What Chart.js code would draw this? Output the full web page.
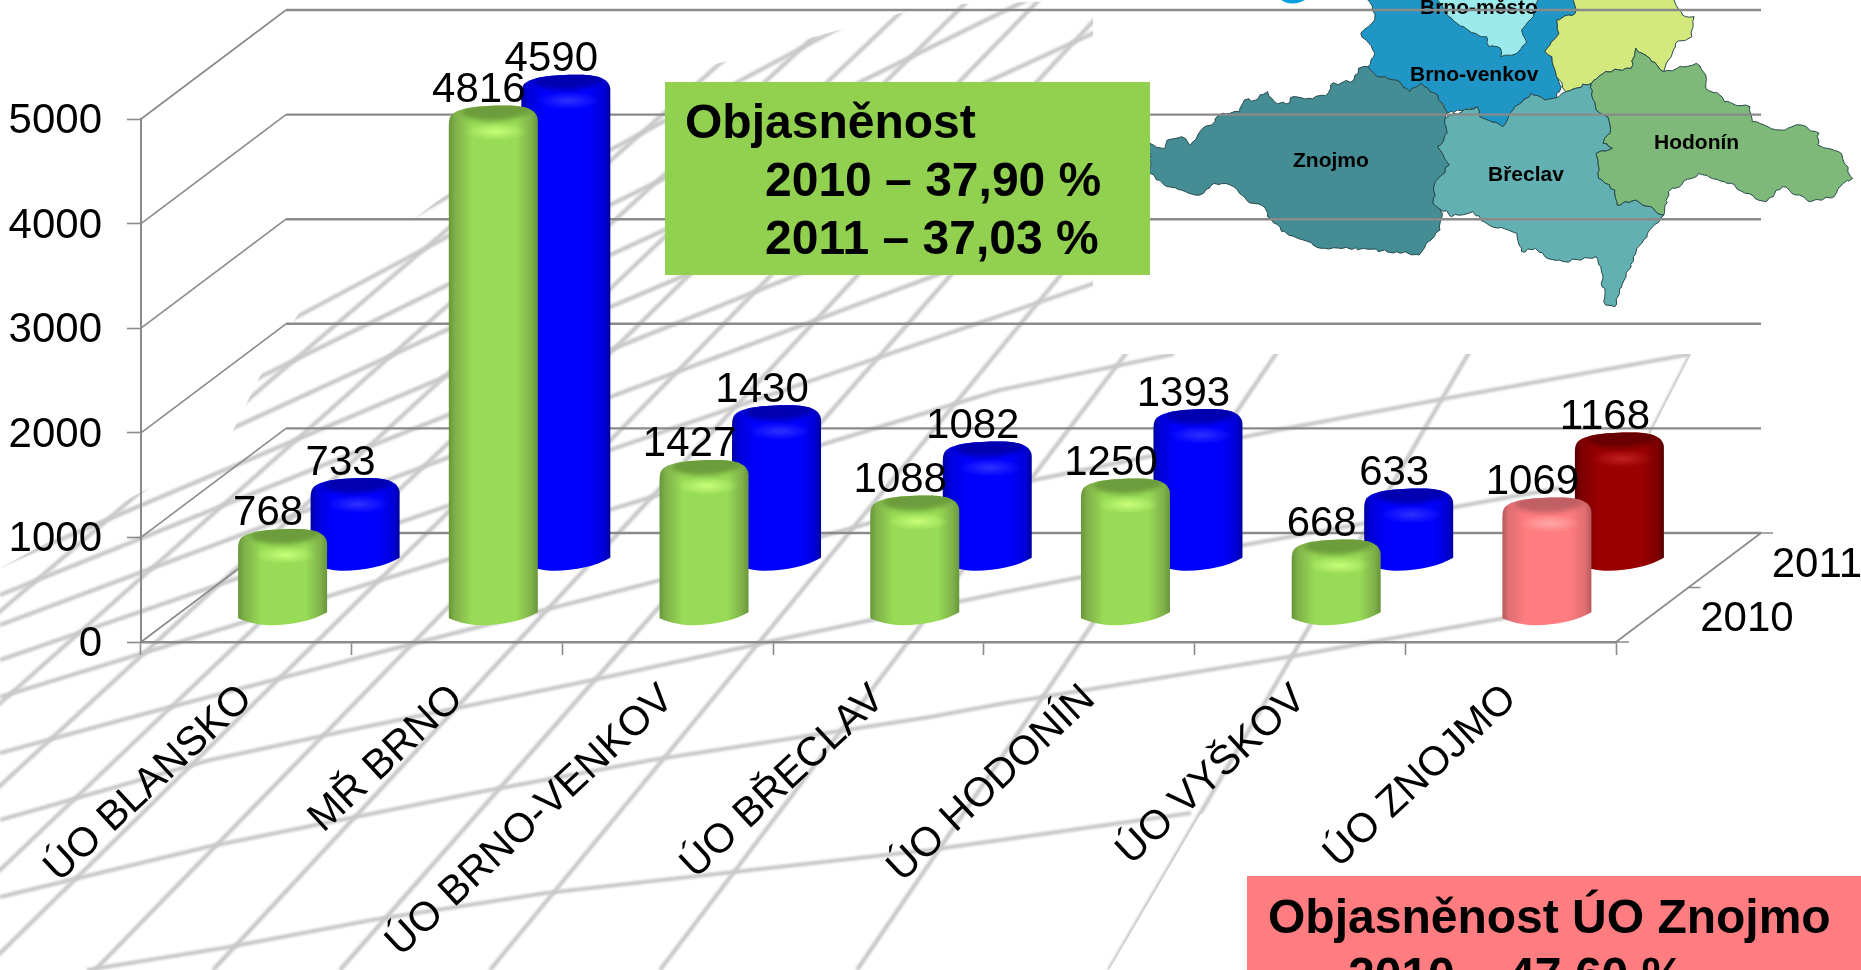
<!DOCTYPE html>
<html lang="cs">
<head>
<meta charset="utf-8">
<title>Objasněnost</title>
<script src="https://cdn.jsdelivr.net/npm/chart.js@4"></script>
<style>
html,body{margin:0;padding:0;background:#fff;overflow:hidden}
canvas{display:block}
</style>
</head>
<body>
<canvas id="c" width="1861" height="970"></canvas>
<script>
// ---- data ----
const categories = ['ÚO BLANSKO','MŘ BRNO','ÚO BRNO-VENKOV','ÚO BŘECLAV','ÚO HODONÍN','ÚO VYŠKOV','ÚO ZNOJMO'];
const seriesNames = ['2010','2011'];
const values2010 = [768,4816,1427,1088,1250,668,1069];
const values2011 = [733,4590,1430,1082,1393,633,1168];
const yTicks = [0,1000,2000,3000,4000,5000];
const greenBoxText = ['Objasněnost','2010 – 37,90 %','2011 – 37,03 %'];
const pinkBoxText = ['Objasněnost ÚO Znojmo','2010 – 47,60 %'];
const mapLabels = ['Brno-město','Brno-venkov','Znojmo','Břeclav','Hodonín'];

// ---- styles ----
const GREEN='#92D050', BLUE='#0000FF', RED='#990000', PINK='#FF7C80';
const colors2010=[GREEN,GREEN,GREEN,GREEN,GREEN,GREEN,PINK];
const colors2011=[BLUE,BLUE,BLUE,BLUE,BLUE,BLUE,RED];
const SHADES={
  [GREEN]:{edge:'#68963a',mid:'#80b04a',center:'#98DB56',cap:'#6C9C3C',glow:'#C8FF78'},
  [BLUE]:{edge:'#0000A0',mid:'#0000D8',center:'#0000FF',cap:'#0000B0',glow:'#3030FF'},
  [RED]:{edge:'#560000',mid:'#7c0000',center:'#990000',cap:'#680000',glow:'#C02020'},
  [PINK]:{edge:'#B55A5D',mid:'#E06E72',center:'#FF7C80',cap:'#C06064',glow:'#FFA8A8'}
};
const FONT='"Liberation Sans", Arial, sans-serif';
const GRID='#8a8a8a';
const DEPTH_X=145, DEPTH_Y=109;
const DEPTH_FRAC=[0.25,0.75];

// ---- cylinder element, positioned by the bar controller ----
class CylinderElement extends Chart.BarElement{
  draw(ctx){
    const {x,y,base,width}=this.getProps(['x','y','base','width'],true);
    const f=DEPTH_FRAC[this.$context.datasetIndex];
    const s=SHADES[this.options.backgroundColor];
    const cx=x+DEPTH_X*f, dy=DEPTH_Y*f, hw=width/2;
    const top=y-dy-5.5, bottom=base-dy+11;
    ctx.save();
    ctx.beginPath();
    ctx.moveTo(cx-hw,bottom-7);
    ctx.bezierCurveTo(cx-hw*.7,bottom-1.5,cx-hw*.45,bottom,cx-hw*.25,bottom);
    ctx.bezierCurveTo(cx+hw*.2,bottom,cx+hw*.7,bottom-5,cx+hw,bottom-13);
    ctx.lineTo(cx+hw,top+15);
    ctx.bezierCurveTo(cx+hw,top+5,cx+hw*.75,top,cx+hw*.3,top);
    ctx.bezierCurveTo(cx-hw*.3,top,cx-hw*.8,top+2,cx-hw*.95,top+10);
    ctx.bezierCurveTo(cx-hw,top+13,cx-hw,top+17,cx-hw,top+22);
    ctx.closePath();
    const g=ctx.createLinearGradient(cx-hw,0,cx+hw,0);
    g.addColorStop(0,s.edge);g.addColorStop(.07,s.mid);g.addColorStop(.26,s.center);
    g.addColorStop(.76,s.center);g.addColorStop(.93,s.mid);g.addColorStop(1,s.edge);
    ctx.fillStyle=g;ctx.fill();
    ctx.clip();
    // dark top face
    ctx.save();
    ctx.filter='blur(2.5px)';
    ctx.fillStyle=s.cap;
    ctx.beginPath();
    ctx.ellipse(cx+3,top+5,hw*.8,10,-0.05,0,Math.PI*2);
    ctx.fill();
    ctx.restore();
    // highlight under the rim
    ctx.save();
    ctx.translate(cx+3,top+26);
    ctx.scale(hw*.7,9);
    const r=ctx.createRadialGradient(0,0,0,0,0,1);
    r.addColorStop(0,s.glow);r.addColorStop(1,s.glow+'00');
    ctx.fillStyle=r;
    ctx.beginPath();ctx.arc(0,0,1,0,Math.PI*2);ctx.fill();
    ctx.restore();
    ctx.restore();
  }
}
CylinderElement.id='cylinder';
CylinderElement.defaults=Chart.BarElement.defaults;
CylinderElement.defaultRoutes=Chart.BarElement.defaultRoutes;
class CylinderController extends Chart.BarController{}
CylinderController.id='cylinderBar';
CylinderController.defaults=Object.assign({},Chart.BarController.defaults,{dataElementType:'cylinder'});
CylinderController.overrides=Chart.BarController.overrides;
Chart.register(CylinderElement,CylinderController);

// ---- decoration: slide background ----
function drawMesh(ctx){
  ctx.save();
  ctx.beginPath();
  [[0,568],[225,447],[262,372],[307,300],[448,193],[712,65],[930,5],[1093,0],[1093,354],[1691,354],[1560,610],[1505,625],[1200,815],[1109,970],[0,970]]
    .forEach((p,i)=>i?ctx.lineTo(p[0],p[1]):ctx.moveTo(p[0],p[1]));
  ctx.closePath();ctx.clip();
  ctx.strokeStyle='#c8c8c8';ctx.lineWidth=4.2;ctx.lineJoin='round';
  ctx.filter='blur(0.9px)';
  const shallow=[
    [[87,970],[229,947],[372,920],[546,893],[930,850],[1191,813]],
    [[0,897],[207,847],[474,793],[652,760],[930,717],[1000,704],[1288,657],[1510,617]],
    [[0,820],[210,760],[350,730],[593,680],[800,635],[1000,593],[1244,545],[1560,488]],
    [[0,753],[140,715],[350,660],[700,570],[1000,487],[1278,430],[1448,398],[1691,354]],
    [[0,697],[1000,390],[1174,354]]
  ];
  shallow.forEach(l=>{ctx.beginPath();l.forEach((p,i)=>i?ctx.lineTo(p[0],p[1]):ctx.moveTo(p[0],p[1]));ctx.stroke();});
  [[660,450],[625,397],[595,350],[565,307],[535,255],[505,205],[475,150],[450,105]].forEach(([y0,y1])=>{
    ctx.beginPath();ctx.moveTo(0,y0);ctx.lineTo(1200,y0+(y1-y0)*1200/610);ctx.stroke();
  });
  const VP=[2625,-1630];
  [-560,-420,-300,-200,-105,-17,95,213,340,490,660,857,1109].forEach(x0=>{
    ctx.beginPath();ctx.moveTo(x0,970);ctx.lineTo(VP[0],VP[1]);ctx.stroke();
  });
  ctx.beginPath();ctx.moveTo(1691,354);ctx.lineTo(1560,610);ctx.stroke();
  ctx.restore();
}
function drawMap(ctx){
  const mx=X=>1130+X/2.145, my=Y=>Y/3;
  const regions=[
   ['#1F96C5',[[498,-30],[950,-30],[955,40],[915,60],[920,100],[890,155],[905,170],[915,230],[925,260],[915,295],[890,300],[860,280],[815,340],[800,380],[750,350],[745,320],[680,340],[660,285],[625,250],[600,275],[570,240],[530,230],[510,200],[525,160],[495,100],[525,60],[520,20]]],
   ['#9CEBEC',[[640,-30],[880,-30],[865,50],[840,90],[850,130],[830,160],[795,170],[795,145],[770,140],[765,110],[725,90],[690,55]]],
   ['#D4E97D',[[950,-30],[1155,-30],[1185,45],[1210,50],[1205,110],[1170,130],[1155,180],[1145,215],[1115,175],[1085,145],[1075,205],[1020,215],[990,250],[935,275],[915,230],[905,170],[890,155],[920,100],[915,60],[955,40]]],
   ['#458D95',[[43,430],[75,445],[80,420],[110,410],[130,435],[150,395],[175,375],[190,345],[235,335],[245,300],[270,300],[295,275],[310,305],[335,312],[350,290],[385,295],[425,280],[430,255],[480,240],[490,205],[510,200],[530,230],[570,240],[600,275],[625,250],[660,285],[680,335],[675,370],[680,400],[660,440],[680,480],[685,495],[655,545],[650,610],[670,640],[665,690],[640,725],[620,765],[590,755],[580,760],[500,745],[410,745],[340,705],[295,650],[290,625],[250,600],[215,555],[180,550],[150,585],[110,570],[80,560],[43,520]]],
   ['#62B0B2',[[680,350],[745,320],[750,350],[800,380],[815,340],[860,280],[890,300],[920,290],[935,275],[990,250],[990,285],[1000,330],[1025,350],[1030,400],[1015,430],[1035,445],[1000,460],[1005,535],[1040,570],[1045,615],[1085,600],[1145,645],[1110,700],[1080,770],[1075,800],[1060,840],[1050,880],[1040,920],[1020,915],[1010,800],[1000,770],[930,785],[890,770],[870,745],[840,755],[830,700],[770,675],[735,635],[690,650],[650,610],[655,545],[685,495],[660,440],[680,400],[675,370]]],
   ['#7FB979',[[990,250],[1020,215],[1075,205],[1085,145],[1115,175],[1145,215],[1215,190],[1235,225],[1235,265],[1265,285],[1275,305],[1330,320],[1335,365],[1395,390],[1440,375],[1478,400],[1475,435],[1520,455],[1550,535],[1530,550],[1510,590],[1460,605],[1400,560],[1365,605],[1320,580],[1290,550],[1220,520],[1155,575],[1145,645],[1085,600],[1045,615],[1040,570],[1005,535],[1000,460],[1035,445],[1015,430],[1030,400],[1025,350],[1000,330],[990,285]]]
  ];
  // small position-based roughness so shared borders stay together
  const rough=(x,y)=>[x+1.3*Math.sin(x*1.9+y*2.7),y+1.3*Math.sin(x*2.3-y*1.7)];
  ctx.save();
  ctx.strokeStyle='#274a4c';ctx.lineWidth=1;ctx.lineJoin='round';
  regions.forEach(([col,pts])=>{
    ctx.beginPath();
    pts.forEach((p,i)=>{
      const q=pts[(i+1)%pts.length];
      const ax=mx(p[0]),ay=my(p[1]),bx=mx(q[0]),by=my(q[1]);
      if(i===0)ctx.moveTo(ax,ay);
      const n=Math.max(1,Math.round(Math.hypot(bx-ax,by-ay)/4));
      for(let k=1;k<=n;k++){
        const tx=ax+(bx-ax)*k/n,ty=ay+(by-ay)*k/n;
        const r=(k===n)?[tx,ty]:rough(Math.round(tx*2)/2,Math.round(ty*2)/2);
        ctx.lineTo(r[0],r[1]);
      }
    });
    ctx.closePath();ctx.fillStyle=col;ctx.fill();ctx.stroke();
  });
  ctx.fillStyle='#000';ctx.font='bold 21px '+FONT;ctx.textAlign='left';ctx.textBaseline='alphabetic';
  const pos=[[1420,14],[1410,81],[1293,167],[1488,181],[1654,149]];
  mapLabels.forEach((t,i)=>ctx.fillText(t,pos[i][0],pos[i][1]));
  // fragment of the slide logo cut off at the top edge
  ctx.fillStyle='#00A0E0';
  ctx.beginPath();ctx.moveTo(1281,0);ctx.quadraticCurveTo(1292,7,1305,0);ctx.closePath();ctx.fill();
  ctx.restore();
}

const slidePlugin={
  id:'slide',
  beforeDraw(chart){
    const ctx=chart.ctx;
    ctx.save();ctx.fillStyle='#fff';ctx.fillRect(0,0,chart.width,chart.height);ctx.restore();
    drawMesh(ctx);drawMap(ctx);
    // value labels sit a little lower against their tick marks
    const ys=chart.scales.y;
    if(!ys.$nudged){ys.getLabelItems().forEach(it=>{it.options.translation[1]+=2.5;});ys.$nudged=true;}
  },
  beforeDatasetsDraw(chart){
    const ctx=chart.ctx,{x,y}=chart.scales;
    const L=x.left,R=x.right;
    ctx.save();
    ctx.strokeStyle=GRID;ctx.lineCap='butt';
    yTicks.forEach(v=>{
      const py=y.getPixelForValue(v);
      ctx.lineWidth=1.6;
      ctx.beginPath();ctx.moveTo(L,py);ctx.lineTo(L+DEPTH_X,py-DEPTH_Y);ctx.stroke();
      ctx.lineWidth=2.4;
      ctx.beginPath();ctx.moveTo(L+DEPTH_X,py-DEPTH_Y);ctx.lineTo(R+DEPTH_X,py-DEPTH_Y);ctx.stroke();
    });
    // depth axis
    const b=y.getPixelForValue(0);
    ctx.lineWidth=1.6;
    ctx.beginPath();ctx.moveTo(R,b);ctx.lineTo(R+DEPTH_X,b-DEPTH_Y);ctx.stroke();
    ctx.beginPath();
    ctx.moveTo(R+DEPTH_X,b-DEPTH_Y);ctx.lineTo(R+DEPTH_X+12,b-DEPTH_Y);
    ctx.moveTo(R+DEPTH_X/2,b-DEPTH_Y/2);ctx.lineTo(R+DEPTH_X/2+12,b-DEPTH_Y/2);
    ctx.moveTo(R,b);ctx.lineTo(R+13,b);
    ctx.stroke();
    ctx.fillStyle='#000';ctx.font='42px '+FONT;ctx.textAlign='left';ctx.textBaseline='alphabetic';
    ctx.fillText(seriesNames[0],R+DEPTH_X*.25+48,b-11);
    ctx.fillText(seriesNames[1],R+DEPTH_X*.75+47,b-65);
    ctx.restore();
  },
  afterDatasetsDraw(chart){
    const ctx=chart.ctx;
    ctx.save();
    ctx.fillStyle='#000';ctx.font='42px '+FONT;ctx.textAlign='center';ctx.textBaseline='alphabetic';
    [1,0].forEach(d=>{
      const meta=chart.getDatasetMeta(d);
      meta.data.forEach((el,i)=>{
        const f=DEPTH_FRAC[d];
        ctx.fillText(String(chart.data.datasets[d].data[i]),el.x+DEPTH_X*f-14.5,el.y-DEPTH_Y*f-9);
      });
    });
    ctx.restore();
  },
  afterDraw(chart){
    const ctx=chart.ctx;
    ctx.save();
    ctx.fillStyle='#92D050';ctx.fillRect(665,82,485,193);
    ctx.fillStyle='#FF7C80';ctx.fillRect(1247,876,614,94);
    ctx.fillStyle='#000';ctx.font='bold 48px '+FONT;ctx.textAlign='left';ctx.textBaseline='alphabetic';
    ctx.fillText(greenBoxText[0],685,138);
    ctx.fillText(greenBoxText[1],765,196);
    ctx.fillText(greenBoxText[2],765,254);
    ctx.fillText(pinkBoxText[0],1268,933);
    ctx.fillText(pinkBoxText[1],1348,991);
    ctx.restore();
  }
};

new Chart(document.getElementById('c'),{
  type:'cylinderBar',
  data:{
    labels:categories,
    datasets:[
      {label:seriesNames[0],data:values2010,backgroundColor:colors2010,clip:false},
      {label:seriesNames[1],data:values2011,backgroundColor:colors2011,clip:false}
    ]
  },
  plugins:[slidePlugin],
  options:{
    responsive:false,animation:false,
    layout:{padding:{left:0,right:245,top:119,bottom:0}},
    datasets:{cylinderBar:{grouped:false,categoryPercentage:1,barPercentage:0.4224}},
    plugins:{legend:{display:false},title:{display:false},tooltip:{enabled:false}},
    scales:{
      x:{
        type:'category',offset:true,
        afterFit(s){s.height=328;},
        border:{color:GRID,width:2.4},
        grid:{display:true,offset:true,drawOnChartArea:false,drawTicks:true,tickLength:13,tickColor:GRID,tickWidth:1.6},
        ticks:{color:'#000',font:{family:FONT,size:41},minRotation:43,maxRotation:43,autoSkip:false,padding:20}
      },
      y:{
        type:'linear',min:0,max:5000,
        afterFit(s){s.width=141;},
        afterBuildTicks(s){s.ticks=yTicks.map(v=>({value:v}));},
        border:{color:GRID,width:2},
        grid:{display:true,drawOnChartArea:false,drawTicks:true,tickLength:14,tickColor:GRID,tickWidth:1.6},
        ticks:{color:'#000',font:{family:FONT,size:42},padding:25,callback:v=>String(v)}
      }
    }
  }
});
</script>
</body>
</html>
